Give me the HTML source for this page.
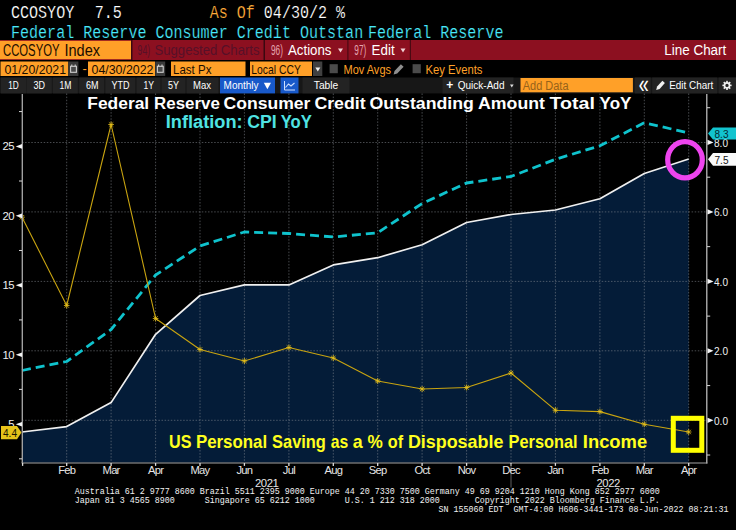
<!DOCTYPE html>
<html lang="en"><head><meta charset="utf-8"><title>CCOSYOY Index - Line Chart</title>
<style>
html,body{margin:0;padding:0;background:#000;width:736px;height:530px;overflow:hidden}
svg{display:block;font-family:"Liberation Sans",sans-serif}
</style></head><body>
<svg width="736" height="530" viewBox="0 0 736 530">
<rect width="736" height="530" fill="#000"/>
<text x="11" y="17.8" font-family="Liberation Mono, monospace" font-size="17.5" fill="#ffffff" textLength="63.21" lengthAdjust="spacingAndGlyphs" stroke="#000" stroke-width="0.18" xml:space="preserve">CCOSYOY</text>
<text x="94.7" y="17.8" font-family="Liberation Mono, monospace" font-size="17.5" fill="#ffffff" textLength="27.09" lengthAdjust="spacingAndGlyphs" stroke="#000" stroke-width="0.18" xml:space="preserve">7.5</text>
<text x="209.66" y="17.8" font-family="Liberation Mono, monospace" font-size="17.5" fill="#ffac3a" textLength="45.15" lengthAdjust="spacingAndGlyphs" stroke="#000" stroke-width="0.18" xml:space="preserve">As Of</text>
<text x="263.84" y="17.8" font-family="Liberation Mono, monospace" font-size="17.5" fill="#ffffff" textLength="81.27" lengthAdjust="spacingAndGlyphs" stroke="#000" stroke-width="0.18" xml:space="preserve">04/30/2 %</text>
<text x="11" y="38.4" font-family="Liberation Mono, monospace" font-size="17.5" fill="#48e8fa" textLength="352.17" lengthAdjust="spacingAndGlyphs" stroke="#000" stroke-width="0.18" xml:space="preserve">Federal Reserve Consumer Credit Outstan</text>
<text x="368" y="38.4" font-family="Liberation Mono, monospace" font-size="17.5" fill="#48e8fa" textLength="135.45" lengthAdjust="spacingAndGlyphs" stroke="#000" stroke-width="0.18" xml:space="preserve">Federal Reserve</text>
<rect x="0" y="40" width="736" height="20" fill="#8c1020" />
<rect x="0" y="40.8" width="131" height="18.4" fill="#ffa028" />
<text x="3" y="56" font-family="Liberation Sans, sans-serif" font-size="16" fill="#1a0d00" textLength="56.5" lengthAdjust="spacingAndGlyphs" xml:space="preserve">CCOSYOY</text>
<text x="64.5" y="56" font-family="Liberation Sans, sans-serif" font-size="16" fill="#1a0d00" textLength="35.5" lengthAdjust="spacingAndGlyphs" xml:space="preserve">Index</text>
<rect x="131" y="40" width="1.5" height="20" fill="#3a0810" />
<text x="137.6" y="54.8" font-family="Liberation Sans, sans-serif" font-size="14.5" fill="#571028" textLength="12.5" lengthAdjust="spacingAndGlyphs" xml:space="preserve">94)</text>
<text x="154.5" y="54.5" font-family="Liberation Sans, sans-serif" font-size="14.5" fill="#571028" textLength="105" lengthAdjust="spacingAndGlyphs" xml:space="preserve">Suggested Charts</text>
<rect x="263.5" y="40" width="1.5" height="20" fill="#3a0810" />
<text x="271" y="55" font-family="Liberation Sans, sans-serif" font-size="14.8" fill="#e3a3ad" textLength="12" lengthAdjust="spacingAndGlyphs" xml:space="preserve">96)</text>
<text x="288" y="55" font-family="Liberation Sans, sans-serif" font-size="15.2" fill="#ffffff" textLength="43.5" lengthAdjust="spacingAndGlyphs" xml:space="preserve">Actions</text>
<path d="M338 48.5 l5 0 l-2.5 4 z" fill="#f0d0d4"/>
<rect x="347.3" y="40" width="1.2" height="20" fill="#4a0912" />
<text x="354.3" y="55" font-family="Liberation Sans, sans-serif" font-size="14.8" fill="#e3a3ad" textLength="12" lengthAdjust="spacingAndGlyphs" xml:space="preserve">97)</text>
<text x="371.6" y="55" font-family="Liberation Sans, sans-serif" font-size="15.2" fill="#ffffff" textLength="23" lengthAdjust="spacingAndGlyphs" xml:space="preserve">Edit</text>
<path d="M400.5 48.5 l5 0 l-2.5 4 z" fill="#f0d0d4"/>
<rect x="409.8" y="40" width="1.2" height="20" fill="#4a0912" />
<text x="664.3" y="55" font-family="Liberation Sans, sans-serif" font-size="15.4" fill="#ffffff" textLength="62" lengthAdjust="spacingAndGlyphs" xml:space="preserve">Line Chart</text>
<rect x="0.5" y="61.5" width="67.8" height="14.5" fill="#ffa028" />
<text x="4.5" y="74" font-family="Liberation Sans, sans-serif" font-size="13.5" fill="#1a0d00" textLength="61.5" lengthAdjust="spacingAndGlyphs" xml:space="preserve">01/20/2021</text>
<rect x="68.4" y="61.5" width="10" height="14.5" fill="#3a3a3a" />
<rect x="70.60000000000001" y="66.3" width="5.8" height="6" fill="#4a4a4a" stroke="#cfcfcf" stroke-width="1.1"/>
<path d="M71.80000000000001 64.6 v1.6 M75.2 64.6 v1.6" stroke="#cfcfcf" stroke-width="1.1"/>
<text x="82.5" y="73" font-family="Liberation Sans, sans-serif" font-size="13" fill="#ffa028" xml:space="preserve">-</text>
<rect x="88" y="61.5" width="67" height="14.5" fill="#ffa028" />
<text x="91.5" y="74" font-family="Liberation Sans, sans-serif" font-size="13.5" fill="#1a0d00" textLength="62" lengthAdjust="spacingAndGlyphs" xml:space="preserve">04/30/2022</text>
<rect x="155.2" y="61.5" width="10" height="14.5" fill="#3a3a3a" />
<rect x="157.39999999999998" y="66.3" width="5.8" height="6" fill="#4a4a4a" stroke="#cfcfcf" stroke-width="1.1"/>
<path d="M158.6 64.6 v1.6 M162.0 64.6 v1.6" stroke="#cfcfcf" stroke-width="1.1"/>
<rect x="171" y="61.5" width="74.5" height="14.5" fill="#ffa028" />
<text x="173" y="74" font-family="Liberation Sans, sans-serif" font-size="13.5" fill="#1a0d00" textLength="38.5" lengthAdjust="spacingAndGlyphs" xml:space="preserve">Last Px</text>
<rect x="250" y="61.5" width="62" height="14.5" fill="#ffa028" />
<text x="251.3" y="74" font-family="Liberation Sans, sans-serif" font-size="13.5" fill="#1a0d00" textLength="49.5" lengthAdjust="spacingAndGlyphs" xml:space="preserve">Local CCY</text>
<rect x="313" y="61.5" width="9.3" height="14.5" fill="#404040" />
<path d="M315.3 67.5 l5 0 l-2.5 4 z" fill="#f0f0f0"/>
<rect x="329.6" y="64.2" width="8.2" height="9" fill="#4b4b4b" />
<text x="343.5" y="73.8" font-family="Liberation Sans, sans-serif" font-size="13.3" fill="#ffa028" textLength="47.5" lengthAdjust="spacingAndGlyphs" xml:space="preserve">Mov Avgs</text>
<path d="M393.6 74.6 l0.9 -3.6 l6.4 -6.8 l2.7 2.5 l-6.4 6.8 z" fill="#8e8e8e"/>
<rect x="412.6" y="64.2" width="8.2" height="9" fill="#4b4b4b" />
<text x="425.5" y="73.8" font-family="Liberation Sans, sans-serif" font-size="13.3" fill="#ffa028" textLength="57" lengthAdjust="spacingAndGlyphs" xml:space="preserve">Key Events</text>
<rect x="0" y="77.5" width="736" height="15.9" fill="#171717" />
<rect x="1" y="77.5" width="25.5" height="15.9" fill="#232323" />
<text x="8.2" y="89.3" font-family="Liberation Sans, sans-serif" font-size="11.2" fill="#ffffff" textLength="10.6" lengthAdjust="spacingAndGlyphs" xml:space="preserve">1D</text>
<rect x="26.8" y="77.5" width="25" height="15.9" fill="#232323" />
<text x="33.5" y="89.3" font-family="Liberation Sans, sans-serif" font-size="11.2" fill="#ffffff" textLength="11.5" lengthAdjust="spacingAndGlyphs" xml:space="preserve">3D</text>
<rect x="52.8" y="77.5" width="25" height="15.9" fill="#232323" />
<text x="59.5" y="89.3" font-family="Liberation Sans, sans-serif" font-size="11.2" fill="#ffffff" textLength="12" lengthAdjust="spacingAndGlyphs" xml:space="preserve">1M</text>
<rect x="79.2" y="77.5" width="25" height="15.9" fill="#232323" />
<text x="86" y="89.3" font-family="Liberation Sans, sans-serif" font-size="11.2" fill="#ffffff" textLength="12.5" lengthAdjust="spacingAndGlyphs" xml:space="preserve">6M</text>
<rect x="105.3" y="77.5" width="30" height="15.9" fill="#232323" />
<text x="111.5" y="89.3" font-family="Liberation Sans, sans-serif" font-size="11.2" fill="#ffffff" textLength="18" lengthAdjust="spacingAndGlyphs" xml:space="preserve">YTD</text>
<rect x="136.5" y="77.5" width="24" height="15.9" fill="#232323" />
<text x="143.5" y="89.3" font-family="Liberation Sans, sans-serif" font-size="11.2" fill="#ffffff" textLength="10.5" lengthAdjust="spacingAndGlyphs" xml:space="preserve">1Y</text>
<rect x="161.5" y="77.5" width="24" height="15.9" fill="#232323" />
<text x="168" y="89.3" font-family="Liberation Sans, sans-serif" font-size="11.2" fill="#ffffff" textLength="11" lengthAdjust="spacingAndGlyphs" xml:space="preserve">5Y</text>
<rect x="186.5" y="77.5" width="32" height="15.9" fill="#232323" />
<text x="193" y="89.3" font-family="Liberation Sans, sans-serif" font-size="11.2" fill="#ffffff" textLength="18" lengthAdjust="spacingAndGlyphs" xml:space="preserve">Max</text>
<rect x="220" y="77.5" width="55" height="15.9" fill="#1859c9" />
<text x="223.6" y="89.3" font-family="Liberation Sans, sans-serif" font-size="11.4" fill="#ffffff" textLength="35" lengthAdjust="spacingAndGlyphs" xml:space="preserve">Monthly</text>
<path d="M263.8 82.8 l7.2 0 l-3.6 6.4 z" fill="#ffffff"/>
<rect x="280.5" y="77.5" width="18" height="15.9" fill="#1859c9" />
<path d="M284.5 81 v9 h10.5" stroke="#cfe0ff" stroke-width="1" fill="none"/><path d="M285.5 87.5 l3 -3.5 l2.5 2 l3.5 -3" stroke="#cfe0ff" stroke-width="1.1" fill="none"/>
<rect x="302.5" y="77.5" width="47" height="15.9" fill="#232323" />
<text x="313.8" y="89.3" font-family="Liberation Sans, sans-serif" font-size="11.2" fill="#ffffff" textLength="24.5" lengthAdjust="spacingAndGlyphs" xml:space="preserve">Table</text>
<rect x="442.5" y="77.5" width="71" height="15.9" fill="#232323" />
<text x="446.2" y="89.3" font-family="Liberation Sans, sans-serif" font-size="12" fill="#ffffff" font-weight="bold" textLength="7" lengthAdjust="spacingAndGlyphs" xml:space="preserve">+</text>
<text x="457.7" y="89.3" font-family="Liberation Sans, sans-serif" font-size="11.2" fill="#ffffff" textLength="46.8" lengthAdjust="spacingAndGlyphs" xml:space="preserve">Quick-Add</text>
<path d="M510 84.5 l3.6 0 l-1.8 3 z" fill="#e0e0e0"/>
<rect x="520.5" y="78" width="112.4" height="14.3" fill="#ffa028" />
<text x="522.8" y="89.7" font-family="Liberation Sans, sans-serif" font-size="13.7" fill="#96621a" textLength="45.7" lengthAdjust="spacingAndGlyphs" xml:space="preserve">Add Data</text>
<rect x="634.8" y="77.5" width="16" height="15.9" fill="#232323" />
<text x="638.8" y="93.2" font-family="Liberation Sans, sans-serif" font-size="25" fill="#ffffff" textLength="10" lengthAdjust="spacingAndGlyphs" xml:space="preserve">«</text>
<rect x="652.2" y="77.5" width="65" height="15.9" fill="#232323" />
<path d="M656.2 89.9 l0.9 -3.3 l5.3 -5.9 l2.5 2.3 l-5.3 5.9 z" fill="#f0f0f0"/>
<text x="669.2" y="89.3" font-family="Liberation Sans, sans-serif" font-size="11.2" fill="#ffffff" textLength="44" lengthAdjust="spacingAndGlyphs" xml:space="preserve">Edit Chart</text>
<rect x="718.6" y="77.5" width="17.8" height="15.9" fill="#232323" />
<g transform="translate(727 85.4)"><circle r="2.5" fill="none" stroke="#f0f0f0" stroke-width="1.7"/> <rect x="-0.8" y="-4.6" width="1.6" height="2" fill="#f0f0f0" transform="rotate(0)"/> <rect x="-0.8" y="-4.6" width="1.6" height="2" fill="#f0f0f0" transform="rotate(45)"/> <rect x="-0.8" y="-4.6" width="1.6" height="2" fill="#f0f0f0" transform="rotate(90)"/> <rect x="-0.8" y="-4.6" width="1.6" height="2" fill="#f0f0f0" transform="rotate(135)"/> <rect x="-0.8" y="-4.6" width="1.6" height="2" fill="#f0f0f0" transform="rotate(180)"/> <rect x="-0.8" y="-4.6" width="1.6" height="2" fill="#f0f0f0" transform="rotate(225)"/> <rect x="-0.8" y="-4.6" width="1.6" height="2" fill="#f0f0f0" transform="rotate(270)"/> <rect x="-0.8" y="-4.6" width="1.6" height="2" fill="#f0f0f0" transform="rotate(315)"/></g>
<polygon points="22.0,462.5 22.0,432.0 66.7,426.6 111.1,402.6 155.6,334.3 200.0,295.5 244.4,284.9 288.9,284.9 333.3,264.9 377.7,257.7 422.1,244.7 466.6,222.5 511.0,214.5 555.4,210.0 599.9,198.7 644.3,173.5 688.7,159.0 688.7,462.5" fill="#041c38"/>
<line x1="22" y1="142.5" x2="707" y2="142.5" stroke="#8a8f96" stroke-width="1" stroke-dasharray="1.5 1.6" opacity="0.52"/>
<line x1="22" y1="211.9" x2="707" y2="211.9" stroke="#8a8f96" stroke-width="1" stroke-dasharray="1.5 1.6" opacity="0.52"/>
<line x1="22" y1="281.4" x2="707" y2="281.4" stroke="#8a8f96" stroke-width="1" stroke-dasharray="1.5 1.6" opacity="0.52"/>
<line x1="22" y1="350.8" x2="707" y2="350.8" stroke="#8a8f96" stroke-width="1" stroke-dasharray="1.5 1.6" opacity="0.52"/>
<line x1="22" y1="420.3" x2="707" y2="420.3" stroke="#8a8f96" stroke-width="1" stroke-dasharray="1.5 1.6" opacity="0.52"/>
<line x1="66.7" y1="93.5" x2="66.7" y2="462.5" stroke="#8a8f96" stroke-width="1" stroke-dasharray="1.5 1.6" opacity="0.52"/>
<line x1="111.1" y1="93.5" x2="111.1" y2="462.5" stroke="#8a8f96" stroke-width="1" stroke-dasharray="1.5 1.6" opacity="0.52"/>
<line x1="155.6" y1="93.5" x2="155.6" y2="462.5" stroke="#8a8f96" stroke-width="1" stroke-dasharray="1.5 1.6" opacity="0.52"/>
<line x1="200.0" y1="93.5" x2="200.0" y2="462.5" stroke="#8a8f96" stroke-width="1" stroke-dasharray="1.5 1.6" opacity="0.52"/>
<line x1="244.4" y1="93.5" x2="244.4" y2="462.5" stroke="#8a8f96" stroke-width="1" stroke-dasharray="1.5 1.6" opacity="0.52"/>
<line x1="288.9" y1="93.5" x2="288.9" y2="462.5" stroke="#8a8f96" stroke-width="1" stroke-dasharray="1.5 1.6" opacity="0.52"/>
<line x1="333.3" y1="93.5" x2="333.3" y2="462.5" stroke="#8a8f96" stroke-width="1" stroke-dasharray="1.5 1.6" opacity="0.52"/>
<line x1="377.7" y1="93.5" x2="377.7" y2="462.5" stroke="#8a8f96" stroke-width="1" stroke-dasharray="1.5 1.6" opacity="0.52"/>
<line x1="422.1" y1="93.5" x2="422.1" y2="462.5" stroke="#8a8f96" stroke-width="1" stroke-dasharray="1.5 1.6" opacity="0.52"/>
<line x1="466.6" y1="93.5" x2="466.6" y2="462.5" stroke="#8a8f96" stroke-width="1" stroke-dasharray="1.5 1.6" opacity="0.52"/>
<line x1="511.0" y1="93.5" x2="511.0" y2="462.5" stroke="#8a8f96" stroke-width="1" stroke-dasharray="1.5 1.6" opacity="0.52"/>
<line x1="555.4" y1="93.5" x2="555.4" y2="462.5" stroke="#8a8f96" stroke-width="1" stroke-dasharray="1.5 1.6" opacity="0.52"/>
<line x1="599.9" y1="93.5" x2="599.9" y2="462.5" stroke="#8a8f96" stroke-width="1" stroke-dasharray="1.5 1.6" opacity="0.52"/>
<line x1="644.3" y1="93.5" x2="644.3" y2="462.5" stroke="#8a8f96" stroke-width="1" stroke-dasharray="1.5 1.6" opacity="0.52"/>
<line x1="688.7" y1="93.5" x2="688.7" y2="462.5" stroke="#8a8f96" stroke-width="1" stroke-dasharray="1.5 1.6" opacity="0.52"/>
<polyline points="22.0,432.0 66.7,426.6 111.1,402.6 155.6,334.3 200.0,295.5 244.4,284.9 288.9,284.9 333.3,264.9 377.7,257.7 422.1,244.7 466.6,222.5 511.0,214.5 555.4,210.0 599.9,198.7 644.3,173.5 688.7,159.0" fill="none" stroke="#f0f0f0" stroke-width="1.7" stroke-linejoin="round"/>
<polyline points="22.0,370.5 66.7,361.5 111.1,329.5 155.6,275.0 200.0,246.0 244.4,232.0 288.9,233.5 333.3,237.0 377.7,232.8 422.1,203.5 466.6,183.0 511.0,176.5 555.4,159.3 599.9,145.8 644.3,122.7 688.7,133.0" fill="none" stroke="#0fc3cd" stroke-width="2.8" stroke-dasharray="9 5" stroke-linejoin="round"/>
<polyline points="22.0,217.2 66.7,305.5 111.1,124.5 155.6,318.5 200.0,349.5 244.4,361.0 288.9,347.5 333.3,358.0 377.7,381.0 422.1,389.0 466.6,387.5 511.0,373.0 555.4,410.2 599.9,411.6 644.3,424.2 688.7,432.0" fill="none" stroke="#c9a410" stroke-width="1.1" stroke-linejoin="round"/>
<path d="M19.8 215.0 l4.4 4.4 M19.8 219.4 l4.4 -4.4 M22.0 214.2 v6 M19.2 217.2 h5.6" stroke="#e8c21c" stroke-width="0.8" fill="none"/>
<path d="M64.5 303.3 l4.4 4.4 M64.5 307.7 l4.4 -4.4 M66.7 302.5 v6 M63.9 305.5 h5.6" stroke="#e8c21c" stroke-width="0.8" fill="none"/>
<path d="M108.9 122.3 l4.4 4.4 M108.9 126.7 l4.4 -4.4 M111.1 121.5 v6 M108.3 124.5 h5.6" stroke="#e8c21c" stroke-width="0.8" fill="none"/>
<path d="M153.4 316.3 l4.4 4.4 M153.4 320.7 l4.4 -4.4 M155.6 315.5 v6 M152.8 318.5 h5.6" stroke="#e8c21c" stroke-width="0.8" fill="none"/>
<path d="M197.8 347.3 l4.4 4.4 M197.8 351.7 l4.4 -4.4 M200.0 346.5 v6 M197.2 349.5 h5.6" stroke="#e8c21c" stroke-width="0.8" fill="none"/>
<path d="M242.2 358.8 l4.4 4.4 M242.2 363.2 l4.4 -4.4 M244.4 358.0 v6 M241.6 361.0 h5.6" stroke="#e8c21c" stroke-width="0.8" fill="none"/>
<path d="M286.7 345.3 l4.4 4.4 M286.7 349.7 l4.4 -4.4 M288.9 344.5 v6 M286.1 347.5 h5.6" stroke="#e8c21c" stroke-width="0.8" fill="none"/>
<path d="M331.1 355.8 l4.4 4.4 M331.1 360.2 l4.4 -4.4 M333.3 355.0 v6 M330.5 358.0 h5.6" stroke="#e8c21c" stroke-width="0.8" fill="none"/>
<path d="M375.5 378.8 l4.4 4.4 M375.5 383.2 l4.4 -4.4 M377.7 378.0 v6 M374.9 381.0 h5.6" stroke="#e8c21c" stroke-width="0.8" fill="none"/>
<path d="M419.9 386.8 l4.4 4.4 M419.9 391.2 l4.4 -4.4 M422.1 386.0 v6 M419.3 389.0 h5.6" stroke="#e8c21c" stroke-width="0.8" fill="none"/>
<path d="M464.4 385.3 l4.4 4.4 M464.4 389.7 l4.4 -4.4 M466.6 384.5 v6 M463.8 387.5 h5.6" stroke="#e8c21c" stroke-width="0.8" fill="none"/>
<path d="M508.8 370.8 l4.4 4.4 M508.8 375.2 l4.4 -4.4 M511.0 370.0 v6 M508.2 373.0 h5.6" stroke="#e8c21c" stroke-width="0.8" fill="none"/>
<path d="M553.2 408.0 l4.4 4.4 M553.2 412.4 l4.4 -4.4 M555.4 407.2 v6 M552.6 410.2 h5.6" stroke="#e8c21c" stroke-width="0.8" fill="none"/>
<path d="M597.7 409.4 l4.4 4.4 M597.7 413.8 l4.4 -4.4 M599.9 408.6 v6 M597.1 411.6 h5.6" stroke="#e8c21c" stroke-width="0.8" fill="none"/>
<path d="M642.1 422.0 l4.4 4.4 M642.1 426.4 l4.4 -4.4 M644.3 421.2 v6 M641.5 424.2 h5.6" stroke="#e8c21c" stroke-width="0.8" fill="none"/>
<path d="M686.5 429.8 l4.4 4.4 M686.5 434.2 l4.4 -4.4 M688.7 429.0 v6 M685.9 432.0 h5.6" stroke="#e8c21c" stroke-width="0.8" fill="none"/>
<line x1="22.3" y1="93.9" x2="22.3" y2="463.0" stroke="#a6a6a6" stroke-width="1.35"/>
<line x1="706.8" y1="93.9" x2="706.8" y2="463.4" stroke="#c2c2c2" stroke-width="1.25"/>
<line x1="21.6" y1="463.0" x2="707.4" y2="463.0" stroke="#a4a4a4" stroke-width="1.15"/>
<line x1="22.6" y1="463.0" x2="22.6" y2="465.9" stroke="#dcdcdc" stroke-width="1.3"/>
<line x1="66.7" y1="463.0" x2="66.7" y2="465.9" stroke="#dcdcdc" stroke-width="1.3"/>
<line x1="111.1" y1="463.0" x2="111.1" y2="465.9" stroke="#dcdcdc" stroke-width="1.3"/>
<line x1="155.6" y1="463.0" x2="155.6" y2="465.9" stroke="#dcdcdc" stroke-width="1.3"/>
<line x1="200.0" y1="463.0" x2="200.0" y2="465.9" stroke="#dcdcdc" stroke-width="1.3"/>
<line x1="244.4" y1="463.0" x2="244.4" y2="465.9" stroke="#dcdcdc" stroke-width="1.3"/>
<line x1="288.9" y1="463.0" x2="288.9" y2="465.9" stroke="#dcdcdc" stroke-width="1.3"/>
<line x1="333.3" y1="463.0" x2="333.3" y2="465.9" stroke="#dcdcdc" stroke-width="1.3"/>
<line x1="377.7" y1="463.0" x2="377.7" y2="465.9" stroke="#dcdcdc" stroke-width="1.3"/>
<line x1="422.1" y1="463.0" x2="422.1" y2="465.9" stroke="#dcdcdc" stroke-width="1.3"/>
<line x1="466.6" y1="463.0" x2="466.6" y2="465.9" stroke="#dcdcdc" stroke-width="1.3"/>
<line x1="511.0" y1="463.0" x2="511.0" y2="465.9" stroke="#dcdcdc" stroke-width="1.3"/>
<line x1="555.4" y1="463.0" x2="555.4" y2="465.9" stroke="#dcdcdc" stroke-width="1.3"/>
<line x1="599.9" y1="463.0" x2="599.9" y2="465.9" stroke="#dcdcdc" stroke-width="1.3"/>
<line x1="644.3" y1="463.0" x2="644.3" y2="465.9" stroke="#dcdcdc" stroke-width="1.3"/>
<line x1="688.7" y1="463.0" x2="688.7" y2="465.9" stroke="#dcdcdc" stroke-width="1.3"/>
<path d="M22 144.09999999999997 L15.7 146.39999999999998 L22 148.7 z" fill="#f4f4f4"/>
<text x="14" y="150.39999999999998" font-family="Liberation Sans, sans-serif" font-size="11.3" fill="#f0f0f0" text-anchor="end" letter-spacing="-0.5" xml:space="preserve">25</text>
<path d="M22 213.54999999999995 L15.7 215.84999999999997 L22 218.14999999999998 z" fill="#f4f4f4"/>
<text x="14" y="219.84999999999997" font-family="Liberation Sans, sans-serif" font-size="11.3" fill="#f0f0f0" text-anchor="end" letter-spacing="-0.5" xml:space="preserve">20</text>
<path d="M22 282.99999999999994 L15.7 285.29999999999995 L22 287.59999999999997 z" fill="#f4f4f4"/>
<text x="14" y="289.29999999999995" font-family="Liberation Sans, sans-serif" font-size="11.3" fill="#f0f0f0" text-anchor="end" letter-spacing="-0.5" xml:space="preserve">15</text>
<path d="M22 352.45 L15.7 354.75 L22 357.05 z" fill="#f4f4f4"/>
<text x="14" y="358.75" font-family="Liberation Sans, sans-serif" font-size="11.3" fill="#f0f0f0" text-anchor="end" letter-spacing="-0.5" xml:space="preserve">10</text>
<path d="M22 421.9 L15.7 424.2 L22 426.5 z" fill="#f4f4f4"/>
<text x="14" y="428.2" font-family="Liberation Sans, sans-serif" font-size="11.3" fill="#f0f0f0" text-anchor="end" letter-spacing="-0.5" xml:space="preserve">5</text>
<line x1="19" y1="111.57499999999996" x2="22" y2="111.57499999999996" stroke="#d8d8d8" stroke-width="1"/>
<line x1="19" y1="181.02499999999998" x2="22" y2="181.02499999999998" stroke="#d8d8d8" stroke-width="1"/>
<line x1="19" y1="250.475" x2="22" y2="250.475" stroke="#d8d8d8" stroke-width="1"/>
<line x1="19" y1="319.92499999999995" x2="22" y2="319.92499999999995" stroke="#d8d8d8" stroke-width="1"/>
<line x1="19" y1="389.37499999999994" x2="22" y2="389.37499999999994" stroke="#d8d8d8" stroke-width="1"/>
<line x1="19" y1="458.825" x2="22" y2="458.825" stroke="#d8d8d8" stroke-width="1"/>
<path d="M707.5 139.86000000000004 L713.5 142.46000000000004 L707.5 145.06000000000003 z" fill="#f4f4f4"/>
<text x="714" y="146.66000000000003" font-family="Liberation Sans, sans-serif" font-size="11.3" fill="#f0f0f0" textLength="14" lengthAdjust="spacingAndGlyphs" xml:space="preserve">8.0</text>
<path d="M707.5 209.32000000000002 L713.5 211.92000000000002 L707.5 214.52 z" fill="#f4f4f4"/>
<text x="714" y="216.12" font-family="Liberation Sans, sans-serif" font-size="11.3" fill="#f0f0f0" textLength="14" lengthAdjust="spacingAndGlyphs" xml:space="preserve">6.0</text>
<path d="M707.5 278.78 L713.5 281.38 L707.5 283.98 z" fill="#f4f4f4"/>
<text x="714" y="285.58" font-family="Liberation Sans, sans-serif" font-size="11.3" fill="#f0f0f0" textLength="14" lengthAdjust="spacingAndGlyphs" xml:space="preserve">4.0</text>
<path d="M707.5 348.24 L713.5 350.84000000000003 L707.5 353.44000000000005 z" fill="#f4f4f4"/>
<text x="714" y="355.04" font-family="Liberation Sans, sans-serif" font-size="11.3" fill="#f0f0f0" textLength="14" lengthAdjust="spacingAndGlyphs" xml:space="preserve">2.0</text>
<path d="M707.5 417.7 L713.5 420.3 L707.5 422.90000000000003 z" fill="#f4f4f4"/>
<text x="714" y="424.5" font-family="Liberation Sans, sans-serif" font-size="11.3" fill="#f0f0f0" textLength="14" lengthAdjust="spacingAndGlyphs" xml:space="preserve">0.0</text>
<line x1="707" y1="107.73000000000002" x2="710.2" y2="107.73000000000002" stroke="#d8d8d8" stroke-width="1"/>
<line x1="707" y1="177.19000000000003" x2="710.2" y2="177.19000000000003" stroke="#d8d8d8" stroke-width="1"/>
<line x1="707" y1="246.65000000000003" x2="710.2" y2="246.65000000000003" stroke="#d8d8d8" stroke-width="1"/>
<line x1="707" y1="316.11" x2="710.2" y2="316.11" stroke="#d8d8d8" stroke-width="1"/>
<line x1="707" y1="385.57" x2="710.2" y2="385.57" stroke="#d8d8d8" stroke-width="1"/>
<line x1="707" y1="455.03000000000003" x2="710.2" y2="455.03000000000003" stroke="#d8d8d8" stroke-width="1"/>
<line x1="511" y1="464" x2="511" y2="487.6" stroke="#5c5c5c" stroke-width="1"/>
<text x="66.7" y="474.2" font-family="Liberation Sans, sans-serif" font-size="11.2" fill="#e6e6e6" text-anchor="middle" letter-spacing="-0.75" xml:space="preserve">Feb</text>
<text x="111.1" y="474.2" font-family="Liberation Sans, sans-serif" font-size="11.2" fill="#e6e6e6" text-anchor="middle" letter-spacing="-0.75" xml:space="preserve">Mar</text>
<text x="155.6" y="474.2" font-family="Liberation Sans, sans-serif" font-size="11.2" fill="#e6e6e6" text-anchor="middle" letter-spacing="-0.75" xml:space="preserve">Apr</text>
<text x="200.0" y="474.2" font-family="Liberation Sans, sans-serif" font-size="11.2" fill="#e6e6e6" text-anchor="middle" letter-spacing="-0.75" xml:space="preserve">May</text>
<text x="244.4" y="474.2" font-family="Liberation Sans, sans-serif" font-size="11.2" fill="#e6e6e6" text-anchor="middle" letter-spacing="-0.75" xml:space="preserve">Jun</text>
<text x="288.9" y="474.2" font-family="Liberation Sans, sans-serif" font-size="11.2" fill="#e6e6e6" text-anchor="middle" letter-spacing="-0.75" xml:space="preserve">Jul</text>
<text x="333.3" y="474.2" font-family="Liberation Sans, sans-serif" font-size="11.2" fill="#e6e6e6" text-anchor="middle" letter-spacing="-0.75" xml:space="preserve">Aug</text>
<text x="377.7" y="474.2" font-family="Liberation Sans, sans-serif" font-size="11.2" fill="#e6e6e6" text-anchor="middle" letter-spacing="-0.75" xml:space="preserve">Sep</text>
<text x="422.1" y="474.2" font-family="Liberation Sans, sans-serif" font-size="11.2" fill="#e6e6e6" text-anchor="middle" letter-spacing="-0.75" xml:space="preserve">Oct</text>
<text x="466.6" y="474.2" font-family="Liberation Sans, sans-serif" font-size="11.2" fill="#e6e6e6" text-anchor="middle" letter-spacing="-0.75" xml:space="preserve">Nov</text>
<text x="511.0" y="474.2" font-family="Liberation Sans, sans-serif" font-size="11.2" fill="#e6e6e6" text-anchor="middle" letter-spacing="-0.75" xml:space="preserve">Dec</text>
<text x="555.4" y="474.2" font-family="Liberation Sans, sans-serif" font-size="11.2" fill="#e6e6e6" text-anchor="middle" letter-spacing="-0.75" xml:space="preserve">Jan</text>
<text x="599.9" y="474.2" font-family="Liberation Sans, sans-serif" font-size="11.2" fill="#e6e6e6" text-anchor="middle" letter-spacing="-0.75" xml:space="preserve">Feb</text>
<text x="644.3" y="474.2" font-family="Liberation Sans, sans-serif" font-size="11.2" fill="#e6e6e6" text-anchor="middle" letter-spacing="-0.75" xml:space="preserve">Mar</text>
<text x="688.7" y="474.2" font-family="Liberation Sans, sans-serif" font-size="11.2" fill="#e6e6e6" text-anchor="middle" letter-spacing="-0.75" xml:space="preserve">Apr</text>
<text x="266.7" y="486.6" font-family="Liberation Sans, sans-serif" font-size="11.3" fill="#e6e6e6" text-anchor="middle" letter-spacing="-0.4" xml:space="preserve">2021</text>
<text x="608.2" y="486.6" font-family="Liberation Sans, sans-serif" font-size="11.3" fill="#e6e6e6" text-anchor="middle" letter-spacing="-0.4" xml:space="preserve">2022</text>
<path d="M708 133.4 L713 127.4 H736 V139.6 H713 z" fill="#12c4cf"/>
<text x="714.5" y="137.6" font-family="Liberation Sans, sans-serif" font-size="11.3" fill="#062a30" textLength="14" lengthAdjust="spacingAndGlyphs" xml:space="preserve">8.3</text>
<path d="M708 159.3 L713 153 H736 V165.7 H713 z" fill="#fafafa"/>
<text x="714.5" y="163.6" font-family="Liberation Sans, sans-serif" font-size="11.3" fill="#101010" textLength="14" lengthAdjust="spacingAndGlyphs" xml:space="preserve">7.5</text>
<path d="M1 426 H17 L21.5 432.6 L17 439.2 H1 z" fill="#e6c31a"/>
<text x="3" y="437" font-family="Liberation Sans, sans-serif" font-size="11.3" fill="#1a1400" textLength="14" lengthAdjust="spacingAndGlyphs" xml:space="preserve">4.4</text>
<ellipse cx="685" cy="159.8" rx="17.3" ry="18.1" fill="none" stroke="#ee44ee" stroke-width="5.2"/>
<rect x="673.3" y="418.3" width="28.5" height="32" fill="none" stroke="#ffff00" stroke-width="5"/>
<text x="87.3" y="108.9" font-family="Liberation Sans, sans-serif" font-size="17.2" fill="#ffffff" font-weight="bold" textLength="61.9" lengthAdjust="spacingAndGlyphs" xml:space="preserve">Federal</text>
<text x="154.1" y="108.9" font-family="Liberation Sans, sans-serif" font-size="17.2" fill="#ffffff" font-weight="bold" textLength="65.8" lengthAdjust="spacingAndGlyphs" xml:space="preserve">Reserve</text>
<text x="223.6" y="108.9" font-family="Liberation Sans, sans-serif" font-size="17.2" fill="#ffffff" font-weight="bold" textLength="86.8" lengthAdjust="spacingAndGlyphs" xml:space="preserve">Consumer</text>
<text x="314.4" y="108.9" font-family="Liberation Sans, sans-serif" font-size="17.2" fill="#ffffff" font-weight="bold" textLength="51.3" lengthAdjust="spacingAndGlyphs" xml:space="preserve">Credit</text>
<text x="369.6" y="108.9" font-family="Liberation Sans, sans-serif" font-size="17.2" fill="#ffffff" font-weight="bold" textLength="104.3" lengthAdjust="spacingAndGlyphs" xml:space="preserve">Outstanding</text>
<text x="478.1" y="108.9" font-family="Liberation Sans, sans-serif" font-size="17.2" fill="#ffffff" font-weight="bold" textLength="66.8" lengthAdjust="spacingAndGlyphs" xml:space="preserve">Amount</text>
<text x="549.6" y="108.9" font-family="Liberation Sans, sans-serif" font-size="17.2" fill="#ffffff" font-weight="bold" textLength="45.3" lengthAdjust="spacingAndGlyphs" xml:space="preserve">Total</text>
<text x="599.6" y="108.9" font-family="Liberation Sans, sans-serif" font-size="17.2" fill="#ffffff" font-weight="bold" textLength="31.8" lengthAdjust="spacingAndGlyphs" xml:space="preserve">YoY</text>
<text x="165.8" y="128.3" font-family="Liberation Sans, sans-serif" font-size="17.6" fill="#4fe3e3" font-weight="bold" textLength="76.8" lengthAdjust="spacingAndGlyphs" xml:space="preserve">Inflation:</text>
<text x="247.2" y="128.3" font-family="Liberation Sans, sans-serif" font-size="17.6" fill="#4fe3e3" font-weight="bold" textLength="29.6" lengthAdjust="spacingAndGlyphs" xml:space="preserve">CPI</text>
<text x="280.7" y="128.3" font-family="Liberation Sans, sans-serif" font-size="17.6" fill="#4fe3e3" font-weight="bold" textLength="31.1" lengthAdjust="spacingAndGlyphs" xml:space="preserve">YoY</text>
<text x="169.0" y="447.8" font-family="Liberation Sans, sans-serif" font-size="17.8" fill="#ffff1e" font-weight="bold" textLength="22.4" lengthAdjust="spacingAndGlyphs" xml:space="preserve">US</text>
<text x="195.9" y="447.8" font-family="Liberation Sans, sans-serif" font-size="17.8" fill="#ffff1e" font-weight="bold" textLength="71.3" lengthAdjust="spacingAndGlyphs" xml:space="preserve">Personal</text>
<text x="272.1" y="447.8" font-family="Liberation Sans, sans-serif" font-size="17.8" fill="#ffff1e" font-weight="bold" textLength="53.8" lengthAdjust="spacingAndGlyphs" xml:space="preserve">Saving</text>
<text x="330.8" y="447.8" font-family="Liberation Sans, sans-serif" font-size="17.8" fill="#ffff1e" font-weight="bold" textLength="17.5" lengthAdjust="spacingAndGlyphs" xml:space="preserve">as</text>
<text x="352.8" y="447.8" font-family="Liberation Sans, sans-serif" font-size="17.8" fill="#ffff1e" font-weight="bold" textLength="9.9" lengthAdjust="spacingAndGlyphs" xml:space="preserve">a</text>
<text x="367.6" y="447.8" font-family="Liberation Sans, sans-serif" font-size="17.8" fill="#ffff1e" font-weight="bold" textLength="15.3" lengthAdjust="spacingAndGlyphs" xml:space="preserve">%</text>
<text x="387.8" y="447.8" font-family="Liberation Sans, sans-serif" font-size="17.8" fill="#ffff1e" font-weight="bold" textLength="15.3" lengthAdjust="spacingAndGlyphs" xml:space="preserve">of</text>
<text x="407.9" y="447.8" font-family="Liberation Sans, sans-serif" font-size="17.8" fill="#ffff1e" font-weight="bold" textLength="95.5" lengthAdjust="spacingAndGlyphs" xml:space="preserve">Disposable</text>
<text x="508.6" y="447.8" font-family="Liberation Sans, sans-serif" font-size="17.8" fill="#ffff1e" font-weight="bold" textLength="69.0" lengthAdjust="spacingAndGlyphs" xml:space="preserve">Personal</text>
<text x="582.8" y="447.8" font-family="Liberation Sans, sans-serif" font-size="17.8" fill="#ffff1e" font-weight="bold" textLength="64.4" lengthAdjust="spacingAndGlyphs" xml:space="preserve">Income</text>
<text x="74.8" y="493.9" font-family="Liberation Mono, monospace" font-size="9.7" fill="#f2f2f2" textLength="585.0" lengthAdjust="spacingAndGlyphs" xml:space="preserve">Australia 61 2 9777 8600 Brazil 5511 2395 9000 Europe 44 20 7330 7500 Germany 49 69 9204 1210 Hong Kong 852 2977 6000</text>
<text x="74.8" y="503.2" font-family="Liberation Mono, monospace" font-size="9.7" fill="#f2f2f2" textLength="585.0" lengthAdjust="spacingAndGlyphs" xml:space="preserve">Japan 81 3 4565 8900      Singapore 65 6212 1000      U.S. 1 212 318 2000       Copyright 2022 Bloomberg Finance L.P.</text>
<text x="438.5" y="512.3" font-family="Liberation Mono, monospace" font-size="9.7" fill="#f2f2f2" textLength="290.0" lengthAdjust="spacingAndGlyphs" xml:space="preserve">SN 155060 EDT  GMT-4:00 H606-3441-173 08-Jun-2022 08:21:31</text>
</svg>
</body></html>
